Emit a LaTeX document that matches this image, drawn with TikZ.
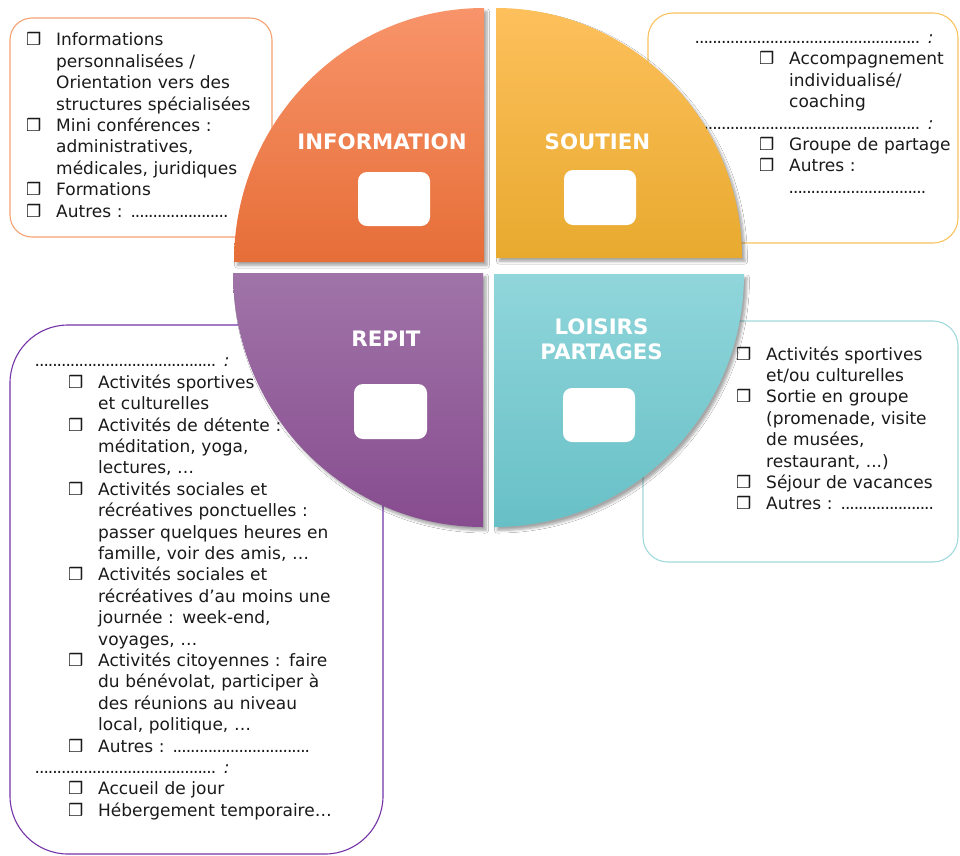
\documentclass[tikz,border=0pt]{standalone}
\usepackage{fontspec}
\setmainfont{DejaVu Sans}
\usetikzlibrary{shadows.blur}
\definecolor{infoT}{HTML}{F8946A}
\definecolor{infoB}{HTML}{E66E38}
\definecolor{soutT}{HTML}{FDC05C}
\definecolor{soutB}{HTML}{E8AA2E}
\definecolor{repT}{HTML}{A074A8}
\definecolor{repB}{HTML}{874C8F}
\definecolor{loiT}{HTML}{90D6DB}
\definecolor{loiB}{HTML}{67C0C6}
\definecolor{infoL}{HTML}{F4A272}
\definecolor{soutL}{HTML}{F8C35E}
\definecolor{repL}{HTML}{7434A8}
\definecolor{loiL}{HTML}{A2D9DD}
\definecolor{txt}{HTML}{1A1A1A}
\newcommand\bul{\makebox[30pt][l]{\textbf{❒}}}
\newcommand\ind{\hspace*{30pt}}
\newcommand\dts[1]{\leavevmode\hbox to #1{\leaders\hbox to 4.4pt{\hss.\hss}\hfill}}
\tikzset{
  listtext/.style={anchor=north west, inner sep=0pt, text width=340pt, align=left,
    font=\fontsize{17}{21.4}\selectfont, text=txt},
  quad/.style={blur shadow={shadow xshift=3pt, shadow yshift=-3.5pt, shadow blur radius=2.5pt, shadow blur steps=6, shadow opacity=35}},
  label/.style={anchor=base, text=white, inner sep=0pt, font=\fontsize{21.3}{25}\selectfont\bfseries, align=center},
  hole/.style={fill=white, rounded corners=9pt},
  frame/.style={line width=1.1pt}
}
\begin{document}
\begin{tikzpicture}[x=1pt, y=-1pt]
\useasboundingbox[fill=white] (0,0) rectangle (960,855);
% frames
\draw[frame, infoL, rounded corners=22pt] (10,18) rectangle (272,237);
\draw[frame, soutL, rounded corners=25pt] (648,13) rectangle (958,243);
\draw[frame, repL, rounded corners=58pt] (10,325) rectangle (383,854);
\draw[frame, loiL, rounded corners=25pt] (643,321) rectangle (958,562);
% texts
\node[listtext] (tinfo) at (26,30.7) {\strut\bul Informations\\
\ind personnalisées /\\
\ind Orientation vers des\\
\ind structures spécialisées\\
\bul Mini conférences :\\
\ind administratives,\\
\ind médicales, juridiques\\
\bul Formations\\
\bul Autres : \dts{97pt}};
\node[listtext] (tsout) at (695,28.3) {\strut\dts{227pt}\ \textit{:}\\
\hspace*{64pt}\bul Accompagnement\\
\hspace*{94pt}individualisé/\\
\hspace*{94pt}coaching\\
\strut\dts{227pt}\ \textit{:}\\
\hspace*{64pt}\bul Groupe de partage\\
\hspace*{64pt}\bul Autres :\\
\hspace*{94pt}\dts{139pt}};
\node[listtext] (trep) at (35,351.7) {\strut\dts{183pt}\ \textit{:}\\
\hspace*{33pt}\bul Activités sportives\\
\hspace*{63pt}et culturelles\\
\hspace*{33pt}\bul Activités de détente :\\
\hspace*{63pt}méditation, yoga,\\
\hspace*{63pt}lectures, …\\
\hspace*{33pt}\bul Activités sociales et\\
\hspace*{63pt}récréatives ponctuelles :\\
\hspace*{63pt}passer quelques heures en\\
\hspace*{63pt}famille, voir des amis, …\\
\hspace*{33pt}\bul Activités sociales et\\
\hspace*{63pt}récréatives d’au moins une\\
\hspace*{63pt}journée : week-end,\\
\hspace*{63pt}voyages, …\\
\hspace*{33pt}\bul Activités citoyennes : faire\\
\hspace*{63pt}du bénévolat, participer à\\
\hspace*{63pt}des réunions au niveau\\
\hspace*{63pt}local, politique, …\\
\hspace*{33pt}\bul Autres : \dts{139pt}\\
\strut\dts{183pt}\ \textit{:}\\
\hspace*{33pt}\bul Accueil de jour\\
\hspace*{33pt}\bul Hébergement temporaire…};
\node[listtext] (tloi) at (736,345) {\strut\bul Activités sportives\\
\ind et/ou culturelles\\
\bul Sortie en groupe\\
\ind (promenade, visite\\
\ind de musées,\\
\ind restaurant, ...)\\
\bul Séjour de vacances\\
\bul Autres : \dts{96pt}};
% quadrants
\path[quad, top color=infoT, bottom color=infoB] (484,262) -- (234,262)
  arc[start angle=180, end angle=270, x radius=250, y radius=254] -- cycle;
\path[quad, top color=soutT, bottom color=soutB] (496,258) -- (496,8)
  arc[start angle=270, end angle=360, x radius=246, y radius=250] -- cycle;
\path[quad, top color=repT, bottom color=repB] (483,273) -- (233,273)
  arc[start angle=180, end angle=90, x radius=250, y radius=254] -- cycle;
\path[quad, top color=loiT, bottom color=loiB] (494,274) -- (744,274)
  arc[start angle=0, end angle=90, x radius=250, y radius=253] -- cycle;
% white boxes
\path[hole] (358,172) rectangle (430,226);
\path[hole] (564,170) rectangle (636,225);
\path[hole] (354,384) rectangle (427,439);
\path[hole] (563,388) rectangle (635,442);
% labels
\node[label] (linfo) at (382,149.8) {INFORMATION};
\node[label] (lsout) at (597.5,149.8) {SOUTIEN};
\node[label] (lrep) at (386,346) {REPIT};
\node[label] (lloi) at (601.5,359) {LOISIRS\\PARTAGES};
\end{tikzpicture}
\end{document}
